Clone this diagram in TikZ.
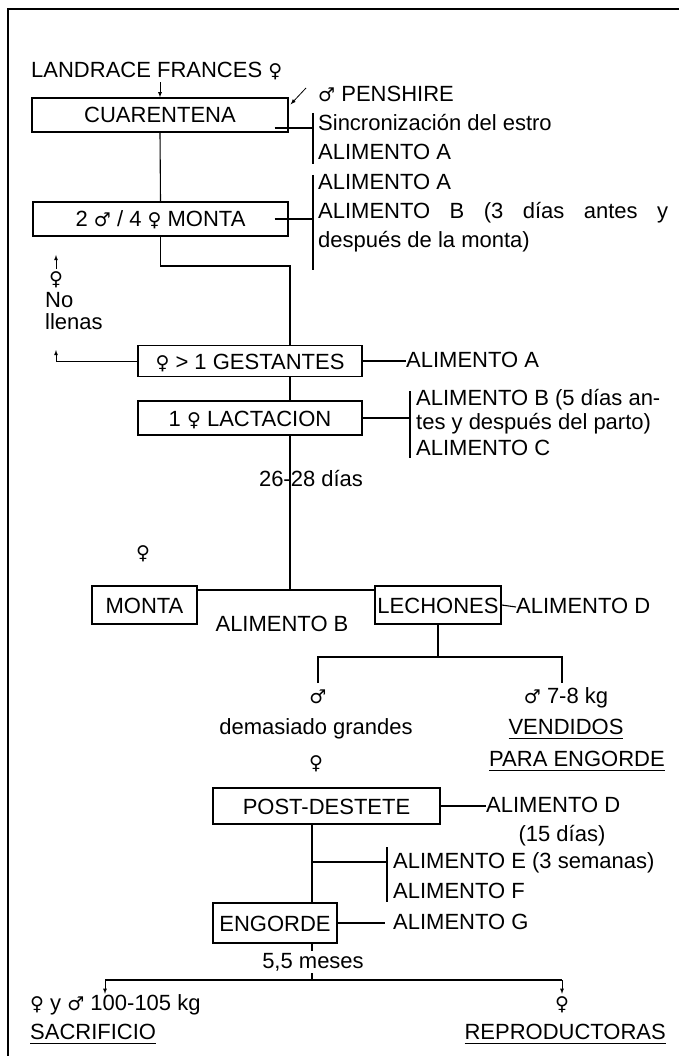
\documentclass[tikz,border=0pt]{standalone}
\usepackage{fontspec}
\setmainfont{Liberation Sans}
\newfontfamily\signofont{DejaVu Sans}
\usepackage{tikz}
\usetikzlibrary{arrows,positioning,calc}
\pgfdeclarelayer{bg}
\pgfsetlayers{bg,main}
\newcommand{\hembra}{{\signofont\fontsize{19}{19}\selectfont ♀}}
\newcommand{\macho}{{\signofont\fontsize{19}{19}\selectfont ♂}}
\newcommand{\subrayado}[1]{\setbox0\hbox{#1}\rlap{\rule[-5pt]{\wd0}{1.3pt}}\box0}
\tikzset{
    caja/.style={draw, line width=1.3pt, inner sep=0pt, text height=16pt, text depth=0pt, minimum height=34pt},
    rotulo/.style={inner sep=0pt, text height=16pt, text depth=4pt},
    linea/.style={line width=1.1pt},
    flecha/.style={line width=0.8pt, -latex},
}

\begin{document}
\begin{tikzpicture}[x=1pt, y=-1pt, font=\fontsize{22}{27}\selectfont]
    \useasboundingbox (0,0) rectangle (679,1056);

    \node [rotulo, anchor=west] (landrace) at (31,72) {LANDRACE FRANCES \hembra};
    \node [caja, minimum width=256pt] (cuar) at (160,115) {CUARENTENA};
    \draw [flecha] (landrace.south -| cuar.north) -- (cuar.north);

    % alimentacion en cuarentena
    \node [rotulo, anchor=west] (penshire) at (318,96) {\macho\ PENSHIRE};
    \node [rotulo, anchor=west] (sincro) at (318,125) {Sincronización del estro};
    \node [rotulo, anchor=west] (alA1) at (318,154) {ALIMENTO A};
    \coordinate (br1a) at (313,113);
    \coordinate (br1b) at (313,164);
    \coordinate (br1m) at (313,128);
    \draw [linea] (br1a) -- (br1b);
    \draw [linea] ($(br1m -| cuar.east)+(-14,0)$) -- (br1m);
    \draw [flecha] ($(penshire.west)+(-12,-8)$) -- ($(cuar.north east)+(2,7)$);

    \node [caja, minimum width=255pt] (monta) at (160.5,219) {2 \macho\ / 4 \hembra\ MONTA};
    \draw [linea] (cuar.south) -- (monta.north);

    \node [rotulo, anchor=west] (alA2) at (318,184) {ALIMENTO A};
    \node [rotulo, anchor=west] (alB1) at (318,213) {\makebox[350pt][s]{ALIMENTO B (3 días antes y}};
    \node [rotulo, anchor=west] (despues) at (318,242) {después de la monta)};
    \coordinate (br2a) at (313,175);
    \coordinate (br2b) at (313,270);
    \coordinate (br2m) at (313,219);
    \draw [linea] (br2a) -- (br2b);
    \draw [linea] ($(br2m -| monta.east)+(-14,0)$) -- (br2m);

    \node [caja, minimum width=224pt, minimum height=31pt] (gest) at (250,361) {\hembra\ > 1 GESTANTES};
    \coordinate (j1) at (290,266);
    \draw [linea] (monta.south) |- (j1) -- (j1 |- gest.north);

    % hembras no llenas vuelven a monta
    \node [rotulo] (nlhembra) at (56,279) {\hembra};
    \node [rotulo, anchor=west] (nlno) at (45,301) {No};
    \node [rotulo, anchor=west] (nlllenas) at (45,323) {llenas};
    \coordinate (nl) at (56,350);
    \coordinate (up1) at (56,255);
    \draw [flecha] (gest.west) -| (nl);
    \draw [flecha] (nlhembra.north) -- (up1);

    \node [rotulo, anchor=west] (alA3) at (406,361) {ALIMENTO A};
    \draw [linea] (gest.east) -- (alA3.west);

    \node [caja, minimum width=224pt] (lact) at (250,418) {1 \hembra\ LACTACION};
    \draw [linea] (gest.south -| j1) -- (lact.north -| j1);

    \node [rotulo, anchor=west] (alB2) at (416,399) {ALIMENTO B (5 días an-};
    \node [rotulo, anchor=west] (parto) at (416,423) {tes y después del parto)};
    \node [rotulo, anchor=west] (alC) at (416,449) {ALIMENTO C};
    \coordinate (br3a) at (410,391);
    \coordinate (br3b) at (410,458);
    \coordinate (br3m) at (410,418);
    \draw [linea] (br3a) -- (br3b);
    \draw [linea] (lact.east) -- (br3m);

    \node [caja, minimum width=105pt, minimum height=38pt] (monta2) at (144.5,605) {MONTA};
    \node [caja, minimum width=126pt, minimum height=38pt] (lech) at (438,605) {LECHONES};
    \node [rotulo] (m2hembra) at (143,553) {\hembra};
    \coordinate (j2) at (290,590);
    \draw [linea] (lact.south -| j2) -- (j2);
    \draw [linea] (monta2.east |- j2) -- (lech.west |- j2);
    \node [rotulo] (dias) at (311,480) {26-28 días};
    \node [rotulo] (alB3) at (282,625) {ALIMENTO B};
    \node [rotulo, anchor=west] (alD1) at (516,607) {ALIMENTO D};
    \draw [linea] (lech.east) -- (alD1.west);

    % reparto de lechones
    \coordinate (k1) at (318,657);
    \coordinate (k2) at (562,657);
    \coordinate (k1b) at (318,683);
    \coordinate (k2b) at (562,683);
    \draw [linea] (lech.south) -- (lech.south |- k1);
    \draw [linea] (k1b) -- (k1) -- (k2) -- (k2b);
    \node [rotulo] (lmacho) at (318,697) {\macho};
    \node [rotulo] (kilos) at (566,697) {\macho\ 7-8 kg};
    \node [rotulo] (grandes) at (316,728) {demasiado grandes};
    \node [rotulo] (vend) at (566,728) {\subrayado{VENDIDOS}};
    \node [rotulo] (paraeng) at (577,760) {\subrayado{PARA ENGORDE}};
    \node [rotulo] (phembra) at (316,763) {\hembra};

    \node [caja, minimum width=227pt, minimum height=36pt] (post) at (326.5,806) {POST-DESTETE};
    \node [rotulo, anchor=west] (alD2) at (486,806) {ALIMENTO D};
    \node [rotulo] (quince) at (562,835) {(15 días)};
    \draw [linea] (post.east) -- (alD2.west);

    \node [caja, minimum width=124pt, minimum height=40pt] (engo) at (275,923) {ENGORDE};
    \coordinate (j3) at (312,862);
    \draw [linea] (post.south -| j3) -- (engo.north -| j3);
    \node [rotulo, anchor=west] (alE) at (393,862) {ALIMENTO E (3 semanas)};
    \node [rotulo, anchor=west] (alF) at (393,892) {ALIMENTO F};
    \node [rotulo, anchor=west] (alG) at (393,923) {ALIMENTO G};
    \coordinate (br4a) at (387,847);
    \coordinate (br4b) at (387,902);
    \coordinate (br4m) at (387,862);
    \draw [linea] (br4a) -- (br4b);
    \draw [linea] (j3) -- (br4m);
    \draw [linea, shorten >=8pt] (engo.east) -- (alG.west);

    % salida del engorde
    \coordinate (j4) at (312,980);
    \coordinate (s1) at (105,980);
    \coordinate (s2) at (562,980);
    \draw [linea] (engo.south -| j4) -- (j4);
    \node [rotulo, fill=white, inner sep=1pt] (meses) at (313,962) {5,5 meses};
    \draw [linea] (s1) -- (s2);
    \node [rotulo, anchor=west] (pesos) at (30,1004) {\hembra\ y \macho\ 100-105 kg};
    \node [rotulo, anchor=west] (sacr) at (30,1033) {\subrayado{SACRIFICIO}};
    \node [rotulo] (rhembra) at (562,1004) {\hembra};
    \node [rotulo, anchor=east] (repro) at (666,1033) {\subrayado{REPRODUCTORAS}};
    \draw [flecha] (s1) -- (s1 |- pesos.north);
    \draw [flecha] (s2) -- (rhembra.north);

    \begin{pgfonlayer}{bg}    % marco
        \draw [line width=2pt] (679,9) -- (8,9) -- (8,1056);
    \end{pgfonlayer}

\end{tikzpicture}
\end{document}
